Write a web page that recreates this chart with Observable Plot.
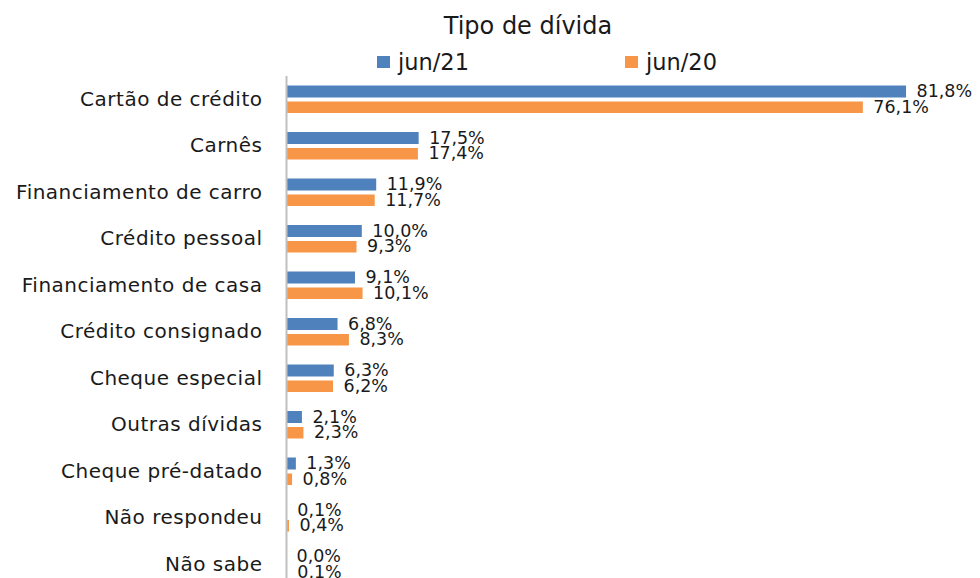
<!DOCTYPE html>
<html>
<head>
<meta charset="utf-8">
<script src="https://cdn.jsdelivr.net/npm/d3@7"></script>
<script src="https://cdn.jsdelivr.net/npm/@observablehq/plot@0.6"></script>
<style>
  body { margin: 0; background: #fff; }
  #wrap { position: relative; width: 980px; height: 578px; overflow: hidden; font-family: "DejaVu Sans", sans-serif; color: #1a1a1a; }
  #title { position: absolute; left: 0; width: 1056px; top: 11px; text-align: center; font-size: 24px; line-height: 30px; }
  .leg { position: absolute; top: 48px; font-size: 22.5px; line-height: 28px; display: flex; align-items: center; }
  .sw { width: 13px; height: 12px; margin-right: 8px; display: inline-block; }
  #chart { position: absolute; left: 0; top: 0; }
  .yax text { letter-spacing: 0.5px; }
</style>
</head>
<body>
<div id="wrap">
  <div id="chart"></div>
  <div id="title">Tipo de dívida</div>
  <div class="leg" style="left:377px"><span class="sw" style="background:#4f81bd"></span>jun/21</div>
  <div class="leg" style="left:625px"><span class="sw" style="background:#f79646"></span>jun/20</div>
</div>
<script>
const categories = ["Cartão de crédito","Carnês","Financiamento de carro","Crédito pessoal","Financiamento de casa","Crédito consignado","Cheque especial","Outras dívidas","Cheque pré-datado","Não respondeu","Não sabe"];
const jun21 = [81.8, 17.5, 11.9, 10.0, 9.1, 6.8, 6.3, 2.1, 1.3, 0.1, 0.0];
const jun20 = [76.1, 17.4, 11.7, 9.3, 10.1, 8.3, 6.2, 2.3, 0.8, 0.4, 0.1];
const seriesNames = ["jun/21", "jun/20"];
const colors = ["#4f81bd", "#f79646"];

const d21 = categories.map((c, i) => ({cat: c, v: jun21[i]}));
const d20 = categories.map((c, i) => ({cat: c, v: jun20[i]}));
const fmt = v => v.toFixed(1).replace(".", ",") + "%";

const chart = Plot.plot({
  width: 980,
  height: 578,
  marginTop: 76,
  marginBottom: 0,
  marginLeft: 286,
  marginRight: 0,
  style: {fontFamily: "DejaVu Sans, sans-serif", color: "#1a1a1a", background: "transparent"},
  x: {domain: [0, 100], range: [286, 1044], axis: null},
  y: {domain: categories, range: [75.5, 587], padding: 0, round: false},
  marks: [
    Plot.barX(d21, {y: "cat", x: "v", fill: colors[0], insetTop: 10, insetBottom: 24.5}),
    Plot.barX(d20, {y: "cat", x: "v", fill: colors[1], insetTop: 26, insetBottom: 9}),
    Plot.text(d21, {y: "cat", x: "v", text: d => fmt(d.v), textAnchor: "start", dx: 10, dy: -7.5, fontSize: 17.5, fill: "#1a1a1a"}),
    Plot.text(d20, {y: "cat", x: "v", text: d => fmt(d.v), textAnchor: "start", dx: 10, dy: 8, fontSize: 17.5, fill: "#1a1a1a"}),
    Plot.ruleX([0], {stroke: "#bfbfbf", strokeWidth: 2}),
    Plot.axisY({tickSize: 0, tickPadding: 24, fontSize: 20, label: null, className: "yax"})
  ]
});
document.getElementById("chart").appendChild(chart);
</script>
</body>
</html>
